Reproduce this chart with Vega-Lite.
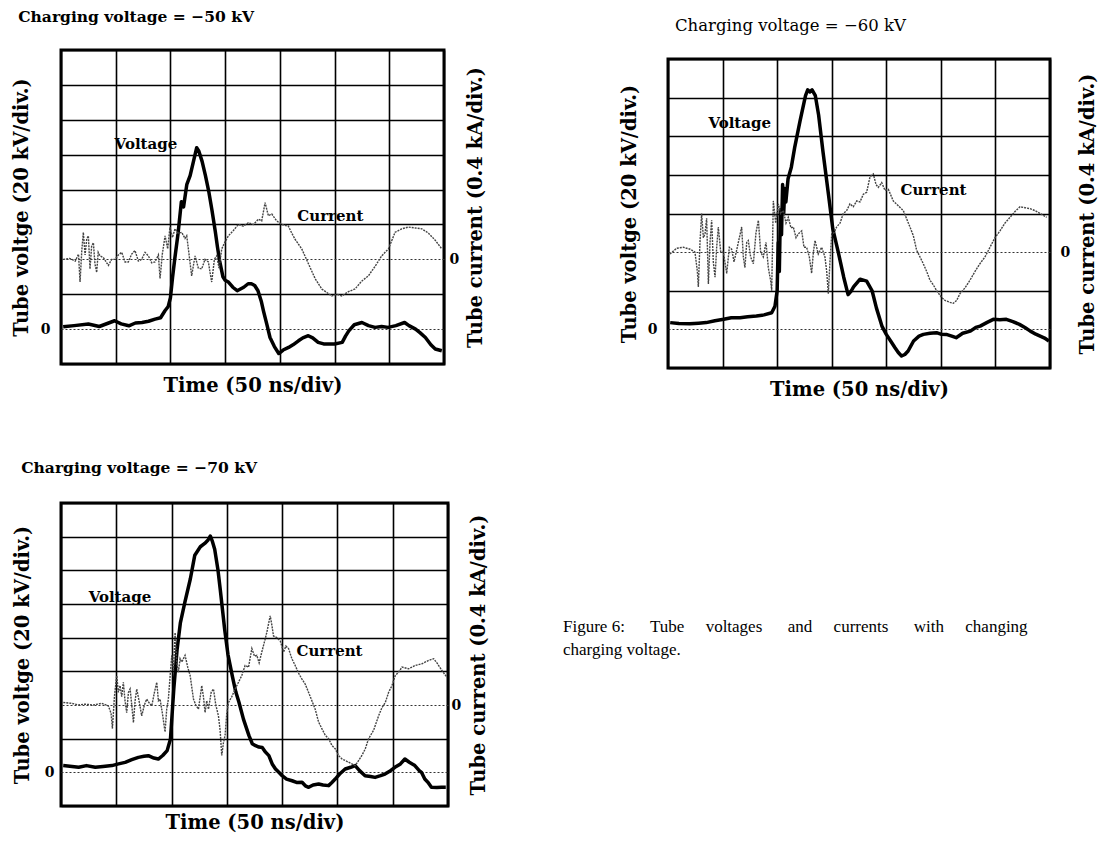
{
"$schema": "https://vega.github.io/schema/vega-lite/v6.json",
"background": "white",
"padding": {"left": 9, "top": 8, "right": 5, "bottom": 5},
"datasets": {
"v50": [{"ns":2,"kV":1.3},{"ns":12,"kV":2},{"ns":25,"kV":2.9},{"ns":35,"kV":1.5},{"ns":49,"kV":4.8},{"ns":55,"kV":3},{"ns":62,"kV":1.9},{"ns":68,"kV":3.5},{"ns":74,"kV":3.8},{"ns":80,"kV":4.5},{"ns":86,"kV":5.7},{"ns":91,"kV":6.5},{"ns":95,"kV":10.5},{"ns":98,"kV":13},{"ns":100,"kV":18},{"ns":102,"kV":30},{"ns":104,"kV":40.5},{"ns":107,"kV":55},{"ns":110,"kV":73},{"ns":112,"kV":70},{"ns":115,"kV":83},{"ns":118,"kV":88},{"ns":121,"kV":96},{"ns":124,"kV":104},{"ns":126,"kV":102},{"ns":129,"kV":96},{"ns":132,"kV":88},{"ns":135,"kV":79},{"ns":138,"kV":68},{"ns":141,"kV":56},{"ns":143,"kV":47},{"ns":145,"kV":39},{"ns":148,"kV":30},{"ns":150,"kV":28},{"ns":153,"kV":27},{"ns":157,"kV":24},{"ns":161,"kV":22},{"ns":164,"kV":23},{"ns":167,"kV":24},{"ns":171,"kV":26},{"ns":174,"kV":26},{"ns":177,"kV":25},{"ns":180,"kV":22},{"ns":183,"kV":16},{"ns":185,"kV":10.5},{"ns":188,"kV":3},{"ns":191,"kV":-4.8},{"ns":195,"kV":-10},{"ns":199,"kV":-14},{"ns":203,"kV":-12},{"ns":208,"kV":-10.5},{"ns":212,"kV":-9},{"ns":217,"kV":-6.7},{"ns":221,"kV":-5},{"ns":226,"kV":-3.8},{"ns":230,"kV":-5},{"ns":235,"kV":-7.6},{"ns":240,"kV":-8.5},{"ns":244,"kV":-8.6},{"ns":250,"kV":-8.5},{"ns":257,"kV":-7.6},{"ns":260,"kV":-4},{"ns":263,"kV":-1},{"ns":268,"kV":2.5},{"ns":275,"kV":3.8},{"ns":281,"kV":2},{"ns":287,"kV":1},{"ns":293,"kV":1.5},{"ns":299,"kV":1},{"ns":306,"kV":2},{"ns":314,"kV":3.8},{"ns":318,"kV":2},{"ns":324,"kV":0},{"ns":328,"kV":-2},{"ns":333,"kV":-4.8},{"ns":338,"kV":-9},{"ns":342,"kV":-11.4},{"ns":348,"kV":-12.4}],
"c50": [{"ns":2,"kA":0},{"ns":8,"kA":0.01},{"ns":13,"kA":-0.02},{"ns":16,"kA":0.06},{"ns":17.4,"kA":-0.26},{"ns":19,"kA":0.1},{"ns":20.4,"kA":0.31},{"ns":22,"kA":0.05},{"ns":23.5,"kA":0.23},{"ns":25,"kA":0.27},{"ns":26.5,"kA":-0.11},{"ns":28,"kA":0.15},{"ns":29.6,"kA":0.19},{"ns":31,"kA":-0.05},{"ns":32.6,"kA":-0.15},{"ns":34,"kA":0.08},{"ns":35.6,"kA":0.04},{"ns":38.7,"kA":0.02},{"ns":43.3,"kA":-0.07},{"ns":46.3,"kA":0},{"ns":49.4,"kA":0},{"ns":52.4,"kA":0.05},{"ns":55.5,"kA":0.08},{"ns":58.5,"kA":-0.03},{"ns":61.5,"kA":-0.03},{"ns":64.6,"kA":0.06},{"ns":67.6,"kA":0.1},{"ns":70.7,"kA":-0.02},{"ns":73.7,"kA":0},{"ns":76.8,"kA":0.08},{"ns":79.8,"kA":0.04},{"ns":82.9,"kA":-0.04},{"ns":85.9,"kA":-0.03},{"ns":89,"kA":0.05},{"ns":90.5,"kA":-0.22},{"ns":92.6,"kA":0.06},{"ns":95.1,"kA":0.27},{"ns":97.5,"kA":0.12},{"ns":99.6,"kA":0.37},{"ns":101.8,"kA":0.25},{"ns":104.2,"kA":0.35},{"ns":107.3,"kA":0.3},{"ns":110.3,"kA":0.31},{"ns":113.3,"kA":0.24},{"ns":114.9,"kA":0.27},{"ns":116.4,"kA":0.12},{"ns":119.4,"kA":-0.19},{"ns":122.5,"kA":0.04},{"ns":125.5,"kA":-0.1},{"ns":128.6,"kA":-0.11},{"ns":131.6,"kA":0},{"ns":134.7,"kA":-0.03},{"ns":136.2,"kA":-0.15},{"ns":137.7,"kA":-0.26},{"ns":140.2,"kA":0},{"ns":142.3,"kA":0.04},{"ns":144.4,"kA":-0.1},{"ns":146.9,"kA":0.12},{"ns":149.9,"kA":0.2},{"ns":153,"kA":0.27},{"ns":157.5,"kA":0.33},{"ns":162.1,"kA":0.4},{"ns":166.7,"kA":0.38},{"ns":171.2,"kA":0.42},{"ns":175.8,"kA":0.4},{"ns":180.4,"kA":0.46},{"ns":183.4,"kA":0.44},{"ns":186.5,"kA":0.65},{"ns":189.5,"kA":0.5},{"ns":192.6,"kA":0.52},{"ns":197.1,"kA":0.44},{"ns":201.7,"kA":0.4},{"ns":207.8,"kA":0.38},{"ns":210.9,"kA":0.3},{"ns":213.9,"kA":0.23},{"ns":220,"kA":0.12},{"ns":226.1,"kA":-0.05},{"ns":232.2,"kA":-0.22},{"ns":238.3,"kA":-0.34},{"ns":242.9,"kA":-0.38},{"ns":247.4,"kA":-0.42},{"ns":252,"kA":-0.4},{"ns":256.6,"kA":-0.42},{"ns":262.7,"kA":-0.37},{"ns":268.7,"kA":-0.34},{"ns":274.8,"kA":-0.25},{"ns":280.9,"kA":-0.19},{"ns":287,"kA":-0.08},{"ns":293.1,"kA":0.04},{"ns":299.2,"kA":0.12},{"ns":305.3,"kA":0.31},{"ns":311.4,"kA":0.35},{"ns":317.5,"kA":0.37},{"ns":323.6,"kA":0.36},{"ns":329.7,"kA":0.35},{"ns":335.8,"kA":0.3},{"ns":341.9,"kA":0.22},{"ns":348,"kA":0.12}],
"v60": [{"ns":2,"kV":3.5},{"ns":10,"kV":3},{"ns":20,"kV":2.9},{"ns":28,"kV":3.2},{"ns":35,"kV":3.5},{"ns":43,"kV":4.5},{"ns":51,"kV":5.2},{"ns":58,"kV":6},{"ns":66,"kV":6},{"ns":73,"kV":6.5},{"ns":81,"kV":6.9},{"ns":88,"kV":7.5},{"ns":95,"kV":8.6},{"ns":98,"kV":12},{"ns":100,"kV":20},{"ns":101,"kV":45},{"ns":102,"kV":30},{"ns":103,"kV":62},{"ns":104,"kV":49},{"ns":105,"kV":75},{"ns":106,"kV":60},{"ns":107,"kV":73},{"ns":108,"kV":66},{"ns":110,"kV":78},{"ns":113,"kV":84},{"ns":116,"kV":94},{"ns":121,"kV":108},{"ns":126,"kV":121},{"ns":128,"kV":124},{"ns":130,"kV":123},{"ns":132,"kV":124},{"ns":135,"kV":121},{"ns":138,"kV":111},{"ns":142,"kV":92},{"ns":147,"kV":70},{"ns":151,"kV":52},{"ns":156,"kV":40},{"ns":161,"kV":27},{"ns":165,"kV":18},{"ns":168,"kV":20},{"ns":170,"kV":22},{"ns":176,"kV":26},{"ns":182,"kV":25},{"ns":187,"kV":20},{"ns":191,"kV":11},{"ns":196,"kV":1.7},{"ns":200,"kV":-2.6},{"ns":204,"kV":-6},{"ns":208,"kV":-9.5},{"ns":211,"kV":-12},{"ns":214,"kV":-13.8},{"ns":217,"kV":-13},{"ns":220,"kV":-11.2},{"ns":225,"kV":-6},{"ns":230,"kV":-3.5},{"ns":234,"kV":-2.6},{"ns":240,"kV":-2},{"ns":246,"kV":-1.7},{"ns":250,"kV":-2.5},{"ns":255,"kV":-2.6},{"ns":260,"kV":-3.5},{"ns":264,"kV":-4.3},{"ns":270,"kV":-2},{"ns":277,"kV":-0.9},{"ns":282,"kV":1},{"ns":286,"kV":1.7},{"ns":292,"kV":3.5},{"ns":298,"kV":5.2},{"ns":304,"kV":5},{"ns":310,"kV":5.2},{"ns":316,"kV":4},{"ns":322,"kV":2.6},{"ns":327,"kV":1},{"ns":332,"kV":-0.9},{"ns":337,"kV":-2.5},{"ns":341,"kV":-3.5},{"ns":345,"kV":-4.5},{"ns":349,"kV":-6}],
"c60": [{"ns":1.8,"kA":-0.02},{"ns":7.9,"kA":0.04},{"ns":14,"kA":0.05},{"ns":20.2,"kA":0.03},{"ns":24.7,"kA":0},{"ns":26.9,"kA":-0.2},{"ns":27.8,"kA":-0.36},{"ns":29.3,"kA":0.1},{"ns":30.8,"kA":0.4},{"ns":32.4,"kA":0.15},{"ns":33.9,"kA":0.19},{"ns":35.4,"kA":0.35},{"ns":37,"kA":-0.33},{"ns":38.5,"kA":0.1},{"ns":40,"kA":0.33},{"ns":41.5,"kA":-0.1},{"ns":43.1,"kA":-0.26},{"ns":44.6,"kA":0.05},{"ns":46.1,"kA":0.26},{"ns":48.3,"kA":0},{"ns":50.7,"kA":0},{"ns":53.8,"kA":-0.22},{"ns":56.2,"kA":0.05},{"ns":58.3,"kA":0.03},{"ns":60.5,"kA":-0.1},{"ns":62.9,"kA":0.02},{"ns":65.4,"kA":0.15},{"ns":67.5,"kA":0.26},{"ns":69,"kA":-0.05},{"ns":70.5,"kA":-0.16},{"ns":72.1,"kA":0.1},{"ns":73.6,"kA":0.12},{"ns":75.7,"kA":-0.05},{"ns":78.2,"kA":-0.12},{"ns":80.6,"kA":0.2},{"ns":82.8,"kA":0.33},{"ns":84.9,"kA":0},{"ns":87.3,"kA":-0.05},{"ns":89.8,"kA":0.1},{"ns":91.9,"kA":-0.16},{"ns":94.1,"kA":-0.3},{"ns":95,"kA":-0.4},{"ns":96.5,"kA":0.53},{"ns":98.7,"kA":0.3},{"ns":101.1,"kA":0.5},{"ns":103.2,"kA":0.4},{"ns":105.7,"kA":0.43},{"ns":108.1,"kA":0.3},{"ns":110.2,"kA":0.36},{"ns":112.7,"kA":0.25},{"ns":114.8,"kA":0.26},{"ns":117.3,"kA":0.15},{"ns":119.4,"kA":0.19},{"ns":122.5,"kA":0.22},{"ns":124.6,"kA":0.05},{"ns":127,"kA":0.05},{"ns":129.5,"kA":-0.05},{"ns":131.6,"kA":-0.22},{"ns":133.2,"kA":0},{"ns":134.7,"kA":0.12},{"ns":137.7,"kA":-0.02},{"ns":140.8,"kA":0.05},{"ns":143.8,"kA":-0.05},{"ns":145.4,"kA":-0.2},{"ns":146.9,"kA":-0.43},{"ns":148.4,"kA":-0.1},{"ns":150,"kA":0.19},{"ns":152.1,"kA":0.2},{"ns":154.5,"kA":0.26},{"ns":157.6,"kA":0.3},{"ns":160.6,"kA":0.4},{"ns":163.7,"kA":0.43},{"ns":166.7,"kA":0.5},{"ns":169.8,"kA":0.47},{"ns":172.9,"kA":0.53},{"ns":175.9,"kA":0.52},{"ns":179,"kA":0.6},{"ns":182,"kA":0.62},{"ns":185.1,"kA":0.78},{"ns":188.1,"kA":0.81},{"ns":190.6,"kA":0.7},{"ns":192.7,"kA":0.67},{"ns":195.8,"kA":0.72},{"ns":198.8,"kA":0.64},{"ns":201.9,"kA":0.65},{"ns":206.4,"kA":0.53},{"ns":211,"kA":0.48},{"ns":215.6,"kA":0.43},{"ns":221.7,"kA":0.26},{"ns":224.8,"kA":0.17},{"ns":227.8,"kA":0.02},{"ns":230.9,"kA":-0.05},{"ns":233.9,"kA":-0.12},{"ns":237,"kA":-0.2},{"ns":240,"kA":-0.29},{"ns":243.1,"kA":-0.34},{"ns":246.2,"kA":-0.4},{"ns":250.7,"kA":-0.47},{"ns":253.8,"kA":-0.5},{"ns":258.4,"kA":-0.52},{"ns":261.4,"kA":-0.53},{"ns":264.5,"kA":-0.5},{"ns":267.5,"kA":-0.43},{"ns":272.1,"kA":-0.37},{"ns":276.7,"kA":-0.29},{"ns":281.3,"kA":-0.2},{"ns":285.8,"kA":-0.12},{"ns":290.4,"kA":-0.05},{"ns":295,"kA":0.05},{"ns":299.6,"kA":0.15},{"ns":304.2,"kA":0.22},{"ns":308.7,"kA":0.3},{"ns":313.3,"kA":0.36},{"ns":317.9,"kA":0.42},{"ns":322.5,"kA":0.47},{"ns":327.1,"kA":0.46},{"ns":331.7,"kA":0.45},{"ns":336.2,"kA":0.43},{"ns":340.8,"kA":0.4},{"ns":346.9,"kA":0.36}],
"v70": [{"ns":2,"kV":4},{"ns":10,"kV":3.5},{"ns":16,"kV":3},{"ns":23,"kV":4},{"ns":31,"kV":3},{"ns":38,"kV":3.5},{"ns":46,"kV":4},{"ns":52,"kV":5},{"ns":58,"kV":5.9},{"ns":64,"kV":7.5},{"ns":70,"kV":8.9},{"ns":75,"kV":9.5},{"ns":79,"kV":9.9},{"ns":84,"kV":8.5},{"ns":88,"kV":7.9},{"ns":92,"kV":10},{"ns":96,"kV":12.9},{"ns":99,"kV":19.8},{"ns":102,"kV":49.4},{"ns":105,"kV":73},{"ns":108,"kV":89},{"ns":112,"kV":101},{"ns":117,"kV":115},{"ns":121,"kV":129},{"ns":126,"kV":134},{"ns":130,"kV":136},{"ns":133,"kV":138},{"ns":135,"kV":140.4},{"ns":137,"kV":137},{"ns":139,"kV":132.5},{"ns":142,"kV":120},{"ns":144,"kV":108.8},{"ns":148,"kV":85},{"ns":151,"kV":70},{"ns":155,"kV":57},{"ns":158,"kV":48},{"ns":161,"kV":41.5},{"ns":165,"kV":31.6},{"ns":170,"kV":21.8},{"ns":173,"kV":17},{"ns":176,"kV":15.8},{"ns":179,"kV":15},{"ns":182,"kV":14.8},{"ns":185,"kV":12},{"ns":188,"kV":9.9},{"ns":191,"kV":5},{"ns":194,"kV":2},{"ns":197,"kV":0},{"ns":200,"kV":-2},{"ns":204,"kV":-4},{"ns":209,"kV":-5},{"ns":213,"kV":-6},{"ns":218,"kV":-5.9},{"ns":221,"kV":-8},{"ns":224,"kV":-8.9},{"ns":228,"kV":-7.5},{"ns":233,"kV":-6.9},{"ns":237,"kV":-7.5},{"ns":242,"kV":-7.9},{"ns":245,"kV":-6},{"ns":248,"kV":-4},{"ns":252,"kV":-1},{"ns":257,"kV":2},{"ns":262,"kV":3},{"ns":266,"kV":4},{"ns":270,"kV":1},{"ns":275,"kV":-2},{"ns":280,"kV":-2.5},{"ns":284,"kV":-3},{"ns":289,"kV":-2},{"ns":293,"kV":-1},{"ns":298,"kV":1},{"ns":302,"kV":3},{"ns":307,"kV":5},{"ns":311,"kV":7.9},{"ns":315,"kV":6},{"ns":320,"kV":4},{"ns":324,"kV":1},{"ns":326,"kV":0},{"ns":329,"kV":-4},{"ns":332,"kV":-6},{"ns":335,"kV":-8.9},{"ns":340,"kV":-9},{"ns":344,"kV":-8.9},{"ns":348,"kV":-8.9}],
"c70": [{"ns":2.1,"kA":0.03},{"ns":9.7,"kA":0.02},{"ns":15.7,"kA":0},{"ns":21.7,"kA":0.01},{"ns":29.3,"kA":0},{"ns":36.8,"kA":0.02},{"ns":42.8,"kA":-0.01},{"ns":45.3,"kA":-0.1},{"ns":46.5,"kA":-0.28},{"ns":48.3,"kA":0.1},{"ns":50.4,"kA":0.35},{"ns":51.9,"kA":0.15},{"ns":53.4,"kA":0.23},{"ns":54.9,"kA":0.1},{"ns":56.4,"kA":0.27},{"ns":57.9,"kA":0.05},{"ns":59.4,"kA":-0.09},{"ns":61,"kA":0.15},{"ns":62.5,"kA":0.19},{"ns":64,"kA":0},{"ns":65.5,"kA":-0.21},{"ns":67,"kA":0.05},{"ns":68.5,"kA":0.19},{"ns":70.6,"kA":0.05},{"ns":73,"kA":-0.13},{"ns":75.4,"kA":0},{"ns":77.5,"kA":0.07},{"ns":80,"kA":0.02},{"ns":82.1,"kA":-0.01},{"ns":84.5,"kA":0.15},{"ns":86.6,"kA":0.27},{"ns":88.1,"kA":0.05},{"ns":89.6,"kA":0.07},{"ns":91.7,"kA":-0.1},{"ns":94.1,"kA":-0.32},{"ns":95.6,"kA":-0.05},{"ns":97.1,"kA":0.07},{"ns":98.7,"kA":0.35},{"ns":100.2,"kA":0.59},{"ns":101.7,"kA":0.4},{"ns":103.2,"kA":0.86},{"ns":104.7,"kA":0.5},{"ns":106.2,"kA":0.39},{"ns":107.7,"kA":0.55},{"ns":109.2,"kA":0.51},{"ns":112.2,"kA":0.59},{"ns":114.6,"kA":0.45},{"ns":116.8,"kA":0.35},{"ns":119.8,"kA":0.07},{"ns":121.9,"kA":0},{"ns":124.3,"kA":-0.05},{"ns":127.3,"kA":0.23},{"ns":128.8,"kA":0.1},{"ns":130.3,"kA":-0.09},{"ns":131.8,"kA":0.05},{"ns":133.4,"kA":-0.05},{"ns":135.8,"kA":0.15},{"ns":137.9,"kA":0.19},{"ns":140,"kA":0},{"ns":142.4,"kA":-0.13},{"ns":143.9,"kA":-0.3},{"ns":145.4,"kA":-0.6},{"ns":146.9,"kA":-0.45},{"ns":148.4,"kA":-0.36},{"ns":149.9,"kA":-0.1},{"ns":151.5,"kA":0.03},{"ns":154.5,"kA":0.1},{"ns":157.5,"kA":0.19},{"ns":160.5,"kA":0.27},{"ns":163.5,"kA":0.35},{"ns":166.5,"kA":0.47},{"ns":169.6,"kA":0.45},{"ns":172.6,"kA":0.67},{"ns":175,"kA":0.58},{"ns":177.1,"kA":0.59},{"ns":179.2,"kA":0.5},{"ns":181.6,"kA":0.63},{"ns":184,"kA":0.75},{"ns":186.1,"kA":0.86},{"ns":189.2,"kA":1.06},{"ns":190.7,"kA":0.95},{"ns":192.2,"kA":0.82},{"ns":195.2,"kA":0.8},{"ns":198.3,"kA":0.76},{"ns":201.3,"kA":0.63},{"ns":203.4,"kA":0.7},{"ns":205.8,"kA":0.67},{"ns":208.8,"kA":0.55},{"ns":211.8,"kA":0.47},{"ns":214.8,"kA":0.38},{"ns":217.8,"kA":0.31},{"ns":220.8,"kA":0.25},{"ns":223.9,"kA":0.15},{"ns":226.9,"kA":0.05},{"ns":229.9,"kA":-0.05},{"ns":232.9,"kA":-0.2},{"ns":235.9,"kA":-0.28},{"ns":239,"kA":-0.36},{"ns":242,"kA":-0.4},{"ns":245,"kA":-0.48},{"ns":248,"kA":-0.52},{"ns":251,"kA":-0.6},{"ns":254,"kA":-0.64},{"ns":257.1,"kA":-0.66},{"ns":260.1,"kA":-0.68},{"ns":263.1,"kA":-0.7},{"ns":266.1,"kA":-0.72},{"ns":269.1,"kA":-0.66},{"ns":272.1,"kA":-0.6},{"ns":275.2,"kA":-0.52},{"ns":278.2,"kA":-0.4},{"ns":282.7,"kA":-0.3},{"ns":287.2,"kA":-0.13},{"ns":290.3,"kA":-0.03},{"ns":293.3,"kA":0.03},{"ns":296.3,"kA":0.15},{"ns":299.3,"kA":0.23},{"ns":302.3,"kA":0.35},{"ns":305.3,"kA":0.39},{"ns":308.4,"kA":0.45},{"ns":314.4,"kA":0.43},{"ns":320.4,"kA":0.47},{"ns":326.4,"kA":0.49},{"ns":332.5,"kA":0.53},{"ns":337,"kA":0.55},{"ns":340,"kA":0.5},{"ns":344.5,"kA":0.41},{"ns":349,"kA":0.33}],
"labels": [{"panel":50,"label":"Voltage","ns":49,"kV":106},{"panel":50,"label":"Current","ns":216,"kV":65},{"panel":60,"label":"Voltage","ns":37,"kV":107},{"panel":60,"label":"Current","ns":213,"kV":72},{"panel":70,"label":"Voltage","ns":25,"kV":104},{"panel":70,"label":"Current","ns":213,"kV":72}],
"caption": [{"text":"Figure 6:\u00a0\u00a0\u00a0\u00a0\u00a0 Tube\u00a0\u00a0\u00a0\u00a0 voltages\u00a0\u00a0\u00a0\u00a0\u00a0 and\u00a0\u00a0\u00a0\u00a0 currents\u00a0\u00a0\u00a0\u00a0\u00a0 with\u00a0\u00a0\u00a0\u00a0 changing\ncharging voltage."}]
},
"hconcat": [
{"vconcat": [
 {"width": 383, "height": 314,
  "title": {"text": "Charging voltage = −50 kV", "anchor": "start", "dx": 7, "fontSize": 15.5, "fontWeight": "bold", "offset": 10, "baseline": "bottom"},
  "resolve": {"scale": {"y": "independent"}},
  "layer": [
   {"data": {"name": "v50"}, "mark": {"type": "line", "color": "black", "strokeWidth": 3.5, "strokeJoin": "round"},
    "encoding": {
     "x": {"field": "ns", "type": "quantitative", "scale": {"domain": [0, 350], "nice": false}, "axis": {"values": [0,50,100,150,200,250,300,350], "labels": false, "grid": true, "title": "Time (50 ns/div)", "titlePadding": 12}},
     "y": {"field": "kV", "type": "quantitative", "scale": {"domain": [-20, 160], "nice": false, "zero": false}, "axis": {"orient": "left", "values": [0], "grid": true, "gridDash": [2, 2], "gridWidth": 1, "gridColor": "#333", "title": "Tube voltge (20 kV/div.)", "labelPadding": 11, "titlePadding": 9}}
    }},
   {"data": {"name": "c50"}, "mark": {"type": "line", "color": "#444", "strokeWidth": 1.4, "strokeDash": [2, 1]},
    "encoding": {"x": {"field": "ns", "type": "quantitative"},
     "y": {"field": "kA", "type": "quantitative", "scale": {"domain": [-1.2, 2.4], "nice": false, "zero": false}, "axis": {"orient": "right", "values": [0], "grid": true, "gridDash": [2, 2], "gridWidth": 1, "gridColor": "#333", "title": "Tube current (0.4 kA/div.)", "titleAngle": 270, "titleBaseline": "top", "labelPadding": 5, "titlePadding": 8}}}},
   {"data": {"name": "labels"}, "transform": [{"filter": "datum.panel === 50"}],
    "mark": {"type": "text", "align": "left", "font": "DejaVu Serif", "fontSize": 15, "fontWeight": "bold", "color": "black"},
    "encoding": {"x": {"field": "ns", "type": "quantitative"},
     "y": {"field": "kV", "type": "quantitative", "scale": {"domain": [-20, 160], "nice": false, "zero": false}, "axis": {"orient": "left", "values": [-20,20,60,80,100,120,140,160], "grid": true, "labels": false, "title": null, "minExtent": 0, "maxExtent": 0}},
     "text": {"field": "label"}}}
  ]},
 {"width": 387, "height": 303,
  "title": {"text": "Charging voltage = −70 kV", "anchor": "start", "dx": 9, "fontSize": 15.5, "fontWeight": "bold", "offset": 12, "baseline": "bottom"},
  "resolve": {"scale": {"y": "independent"}},
  "layer": [
   {"data": {"name": "v70"}, "mark": {"type": "line", "color": "black", "strokeWidth": 3.5, "strokeJoin": "round"},
    "encoding": {
     "x": {"field": "ns", "type": "quantitative", "scale": {"domain": [0, 350], "nice": false}, "axis": {"values": [0,50,100,150,200,250,300,350], "labels": false, "grid": true, "title": "Time (50 ns/div)", "titlePadding": 7}},
     "y": {"field": "kV", "type": "quantitative", "scale": {"domain": [-20, 160], "nice": false, "zero": false}, "axis": {"orient": "left", "values": [0], "grid": true, "gridDash": [2, 2], "gridWidth": 1, "gridColor": "#333", "title": "Tube voltge (20 kV/div.)", "labelPadding": 7, "titlePadding": 12}}
    }},
   {"data": {"name": "c70"}, "mark": {"type": "line", "color": "#444", "strokeWidth": 1.4, "strokeDash": [2, 1]},
    "encoding": {"x": {"field": "ns", "type": "quantitative"},
     "y": {"field": "kA", "type": "quantitative", "scale": {"domain": [-1.2, 2.4], "nice": false, "zero": false}, "axis": {"orient": "right", "values": [0], "grid": true, "gridDash": [2, 2], "gridWidth": 1, "gridColor": "#333", "title": "Tube current (0.4 kA/div.)", "titleAngle": 270, "titleBaseline": "top", "labelPadding": 3, "titlePadding": 9}}}},
   {"data": {"name": "labels"}, "transform": [{"filter": "datum.panel === 70"}],
    "mark": {"type": "text", "align": "left", "font": "DejaVu Serif", "fontSize": 15, "fontWeight": "bold", "color": "black"},
    "encoding": {"x": {"field": "ns", "type": "quantitative"},
     "y": {"field": "kV", "type": "quantitative", "scale": {"domain": [-20, 160], "nice": false, "zero": false}, "axis": {"orient": "left", "values": [-20,20,60,80,100,120,140,160], "grid": true, "labels": false, "title": null, "minExtent": 0, "maxExtent": 0}},
     "text": {"field": "label"}}}
  ]}
 ], "spacing": 63},
{"vconcat": [
 {"vconcat": [
  {"width": 382, "height": 6, "view": {"stroke": null, "fill": null},
   "title": {"text": "Charging voltage = −60 kV", "anchor": "start", "dx": 7, "fontSize": 16.5, "fontWeight": "normal", "offset": 0, "baseline": "bottom"},
   "data": {"values": []}, "mark": {"type": "rect"}, "encoding": {}},
  {"width": 382, "height": 309,
   "resolve": {"scale": {"y": "independent"}},
   "layer": [
    {"data": {"name": "v60"}, "mark": {"type": "line", "color": "black", "strokeWidth": 3.5, "strokeJoin": "round"},
     "encoding": {
      "x": {"field": "ns", "type": "quantitative", "scale": {"domain": [0, 350], "nice": false}, "axis": {"values": [0,50,100,150,200,250,300,350], "labels": false, "grid": true, "title": "Time (50 ns/div)", "titlePadding": 12}},
      "y": {"field": "kV", "type": "quantitative", "scale": {"domain": [-20, 140], "nice": false, "zero": false}, "axis": {"orient": "left", "values": [0], "grid": true, "gridDash": [2, 2], "gridWidth": 1, "gridColor": "#333", "title": "Tube voltge (20 kV/div.)", "labelPadding": 11, "titlePadding": 8}}
     }},
    {"data": {"name": "c60"}, "mark": {"type": "line", "color": "#444", "strokeWidth": 1.4, "strokeDash": [2, 1]},
     "encoding": {"x": {"field": "ns", "type": "quantitative"},
      "y": {"field": "kA", "type": "quantitative", "scale": {"domain": [-1.2, 2.0], "nice": false, "zero": false}, "axis": {"orient": "right", "values": [0], "grid": true, "gridDash": [2, 2], "gridWidth": 1, "gridColor": "#333", "title": "Tube current (0.4 kA/div.)", "titleAngle": 270, "titleBaseline": "top", "labelPadding": 10, "titlePadding": 9}}}},
    {"data": {"name": "labels"}, "transform": [{"filter": "datum.panel === 60"}],
     "mark": {"type": "text", "align": "left", "font": "DejaVu Serif", "fontSize": 15, "fontWeight": "bold", "color": "black"},
     "encoding": {"x": {"field": "ns", "type": "quantitative"},
      "y": {"field": "kV", "type": "quantitative", "scale": {"domain": [-20, 140], "nice": false, "zero": false}, "axis": {"orient": "left", "values": [-20,20,60,80,100,120,140], "grid": true, "labels": false, "title": null, "minExtent": 0, "maxExtent": 0}},
      "text": {"field": "label"}}}
   ]}
 ], "spacing": 1},
 {"width": 382, "height": 50, "view": {"stroke": null},
  "data": {"name": "caption"},
  "mark": {"type": "text", "align": "left", "baseline": "top", "font": "Liberation Serif", "fontSize": 17, "lineHeight": 23, "lineBreak": "\n", "dx": -105, "color": "black"},
  "encoding": {
   "x": {"datum": 0, "type": "quantitative", "scale": {"domain": [0, 1]}, "axis": null},
   "y": {"datum": 1, "type": "quantitative", "scale": {"domain": [0, 1]}, "axis": null},
   "text": {"field": "text"}
  }}
 ], "spacing": 218}
],
"spacing": 73,
"config": {
 "view": {"stroke": "black", "strokeWidth": 3},
 "font": "DejaVu Serif",
 "axis": {"domain": false, "ticks": false, "labelFont": "DejaVu Serif", "labelFontSize": 14, "labelFontWeight": "bold", "labelColor": "black", "titleFont": "DejaVu Serif", "titleFontSize": 19.5, "titleFontWeight": "bold", "titleColor": "black", "gridColor": "black", "gridWidth": 1.6, "gridOpacity": 1},
 "title": {"font": "DejaVu Serif", "color": "black"}
}
}
